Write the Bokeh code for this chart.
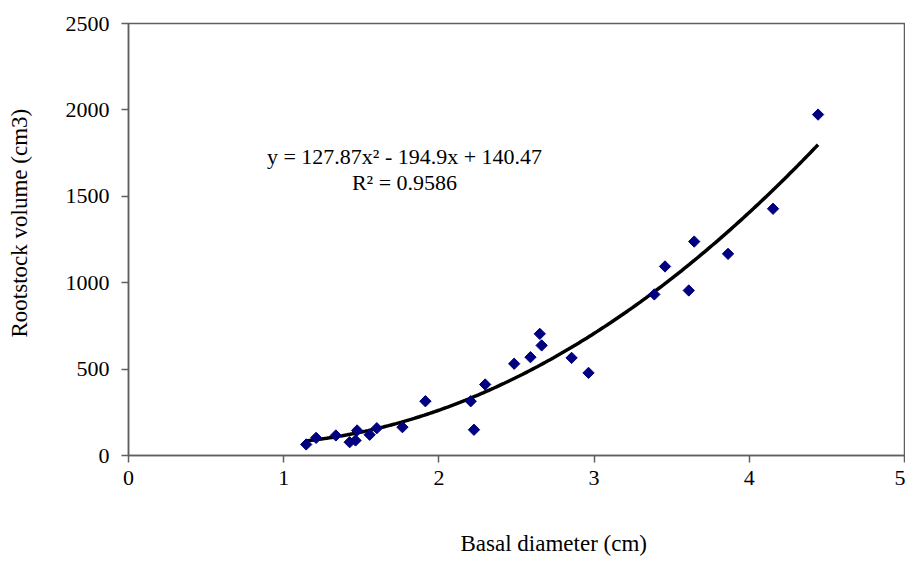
import numpy as np
from bokeh.plotting import figure
from bokeh.models import FixedTicker, Label, Title, LinearAxis
from bokeh.embed import file_html
from bokeh.resources import INLINE

# Data
basal_diameter = [1.145, 1.209, 1.336, 1.425, 1.463, 1.473, 1.554, 1.600, 1.765,
                  1.913, 2.205, 2.226, 2.298, 2.485, 2.590, 2.650, 2.662, 2.855,
                  2.964, 3.388, 3.457, 3.610, 3.645, 3.863, 4.153, 4.443]
rootstock_volume = [64, 102, 116, 77, 87, 145, 120, 158, 164,
                    314, 314, 149, 411, 531, 569, 704, 637, 565,
                    478, 932, 1094, 955, 1238, 1167, 1428, 1973]

# Trendline coefficients as printed on the chart (a*x^2 + b*x + c)
trend_coeffs = [127.87, -194.9, 140.47]
trend_text = ["y = 127.87x\u00b2 - 194.9x + 140.47", "R\u00b2 = 0.9586"]

x_ticks = [0, 1, 2, 3, 4, 5]
y_ticks = [0, 500, 1000, 1500, 2000, 2500]

FONT = "Liberation Serif"
GREY = "#5f5f5f"

p = figure(width=905, height=559, x_range=(0, 5), y_range=(0, 2500),
           output_backend="svg", toolbar_location=None,
           min_border_left=128, min_border_right=1, min_border_top=23,
           min_border_bottom=104)
p.background_fill_color = "white"
p.border_fill_color = "white"
p.outline_line_color = GREY
p.outline_line_width = 1.5
p.grid.visible = False

for ax in (p.xaxis, p.yaxis):
    ax.axis_line_color = GREY
    ax.axis_line_width = 1.5
    ax.major_tick_line_color = GREY
    ax.major_tick_line_width = 1.5
    ax.major_tick_out = 7
    ax.major_tick_in = 0
    ax.minor_tick_line_color = None
    ax.major_label_text_font = FONT
    ax.major_label_text_font_size = "22px"
    ax.major_label_text_color = "black"

p.xaxis.ticker = FixedTicker(ticks=x_ticks)
p.yaxis.ticker = FixedTicker(ticks=y_ticks)
p.xaxis.major_label_standoff = 8
p.yaxis.major_label_standoff = 12


def spacer_axis(gap):
    # invisible axis used only as padding, pushing the axis title outward
    return LinearAxis(ticker=FixedTicker(ticks=[0]), major_label_overrides={0: ""},
                      axis_line_color=None, major_tick_line_color=None,
                      minor_tick_line_color=None, major_tick_out=gap,
                      major_tick_in=0, major_label_standoff=0)


# x-axis title (below, shifted right as in the reference)
p.add_layout(spacer_axis(40), "below")
p.add_layout(Title(text="Basal diameter (cm)", align="left", offset=332,
                   standoff=2, text_font=FONT, text_font_size="23px",
                   text_font_style="normal", text_color="black"), "below")

# y-axis title (left, slightly above centre as in the reference)
p.add_layout(spacer_axis(30), "left")
p.add_layout(Title(text="Rootstock volume (cm3)", align="left", offset=118,
                   standoff=2, text_font=FONT, text_font_size="23px",
                   text_font_style="normal", text_color="black"), "left")

# Trendline
xs = np.linspace(min(basal_diameter), max(basal_diameter), 200)
ys = np.polyval(trend_coeffs, xs)
p.line(xs, ys, line_color="black", line_width=3.5)

# Points
p.scatter(basal_diameter, rootstock_volume, marker="square", size=8,
          angle=np.pi / 4, fill_color="#000080", line_color="#000080")

# Equation text
for txt, yy in zip(trend_text, [299, 273]):
    p.add_layout(Label(x=276, y=yy, x_units="screen", y_units="screen",
                       text=txt, text_align="center",
                       text_baseline="alphabetic", text_font=FONT,
                       text_font_size="22px", text_color="black"))

open("out.html", "w").write(file_html(p, INLINE))
